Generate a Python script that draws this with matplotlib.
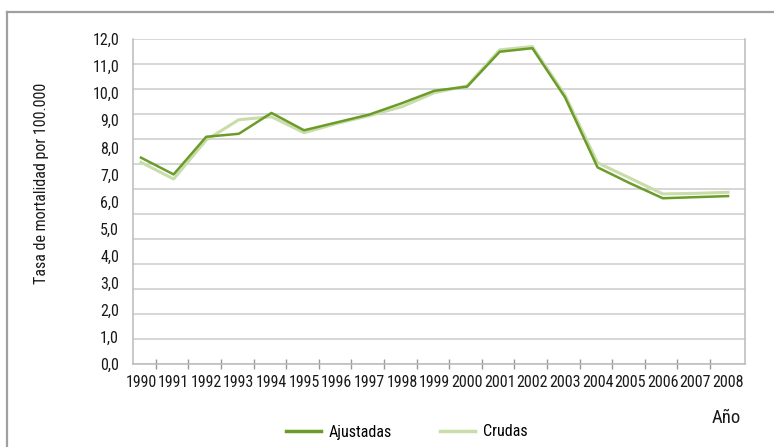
import numpy as np
import matplotlib
matplotlib.use("Agg")
import matplotlib.pyplot as plt
from matplotlib.lines import Line2D

plt.rcParams['font.family'] = ['Roboto Condensed', 'Archivo Narrow', 'DejaVu Sans']

# datos
anios = list(range(1990, 2009))
ajustadas = [7.62, 7.00, 8.39, 8.50, 9.27, 8.63, 8.92, 9.21, 9.63, 10.09,
             10.24, 11.53, 11.66, 9.85, 7.26, 6.67, 6.12, 6.16, 6.20]
crudas = [7.45, 6.83, 8.27, 9.02, 9.13, 8.54, 8.88, 9.17, 9.50, 10.02,
          10.27, 11.60, 11.72, 9.93, 7.43, 6.86, 6.28, 6.30, 6.34]
y_ticks = list(range(0, 13))
y_labels = [f"{v},0" for v in y_ticks]

c_ajust = '#6b9c2a'
c_crud = '#c9ddab'
c_grid = '#cccccc'
c_txt = '#1a1a1a'

fig = plt.figure(figsize=(7.74, 4.47), dpi=100, facecolor='white')
ax = fig.add_axes([133/774, 1 - 364/447, (745 - 133)/774, (364 - 39)/447])

# lineas de fondo (el grafico original trae 14 lineas de grilla)
for g in np.linspace(0, 12, 14):
    ax.axhline(g, color=c_grid, lw=1.1, zorder=0)

ax.plot(anios, crudas, color=c_crud, lw=2.2, zorder=2)
ax.plot(anios, ajustadas, color=c_ajust, lw=1.8, zorder=3)

ax.set_xlim(1989.755, 2008.52)
ax.set_ylim(0, 12)

ax.set_xticks(anios)
ax.set_xticklabels([str(a) for a in anios], fontsize=11.5, color=c_txt)
ax.set_xticks([a + 0.45 for a in anios[:-1]], minor=True)
ax.tick_params(axis='x', which='major', length=0, pad=8)
ax.tick_params(axis='x', which='minor', direction='inout', length=7, color='#999999', width=1)

ax.set_yticks(y_ticks)
ax.set_yticklabels(y_labels, fontsize=11.5, color=c_txt)
ax.tick_params(axis='y', length=0, pad=10)

for s in ['left', 'bottom', 'right']:
    ax.spines[s].set_color('#bbbbbb')
    ax.spines[s].set_linewidth(1.1)
ax.spines['top'].set_visible(False)

fig.text(42/774, 1 - 183/447, 'Tasa de mortalidad por 100.000', rotation=90,
         ha='center', va='center', fontsize=11.5, color=c_txt)
fig.text(726/774, 1 - 418/447, 'Año', ha='center', va='center', fontsize=13.5, color=c_txt)

handles = [Line2D([], [], color=c_ajust, lw=2.5), Line2D([], [], color=c_crud, lw=2.5)]
fig.legend(handles, ['Ajustadas', 'Crudas'], loc='center', bbox_to_anchor=(407/774, 1 - 432/447),
           ncol=2, frameon=False, fontsize=11.5, handlelength=2.2, handletextpad=0.5,
           columnspacing=3.0)

# marco exterior
fig.add_artist(Line2D([7/774, 1], [1 - 12/447, 1 - 12/447], color='#a0a0a0', lw=1.6))
fig.add_artist(Line2D([7/774, 7/774], [0, 1 - 12/447], color='#a0a0a0', lw=1.6))

fig.savefig('out.png', dpi=100)
